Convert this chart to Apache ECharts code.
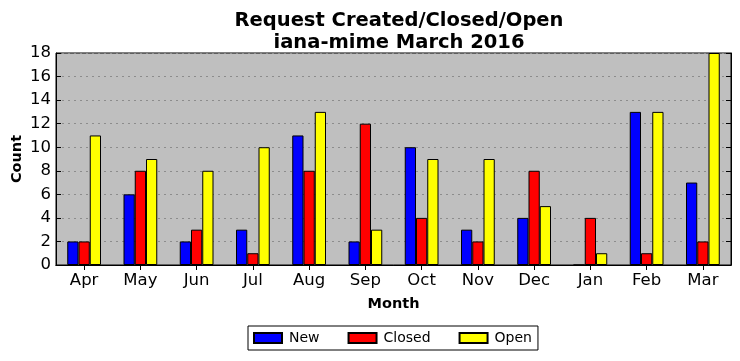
<!DOCTYPE html>
<html><head><meta charset="utf-8">
<script src="https://cdn.jsdelivr.net/npm/echarts@6/dist/echarts.min.js"></script>
<style>html,body{margin:0;padding:0;background:#fff}#c{width:740px;height:361px}</style>
</head><body><div id="c"></div>
<script>
const months = ['Apr','May','Jun','Jul','Aug','Sep','Oct','Nov','Dec','Jan','Feb','Mar'];
const newVals = [2,6,2,3,11,2,10,3,4,0,13,7];
const closedVals = [2,8,3,1,8,12,4,2,8,4,1,2];
const openVals = [11,9,8,10,13,3,9,9,5,1,13,18];
const yTicks = {min:0, max:18, interval:2};

const F = 'DejaVu Sans';
const chart = echarts.init(document.getElementById('c'), null, {renderer:'canvas'});
function bar(name, data, color){
  return {name, type:'bar', data, barWidth:'20%', barGap:'0%', xAxisIndex:0, yAxisIndex:0,
    itemStyle:{color, borderColor:'#000', borderWidth:1}, emphasis:{disabled:true}};
}
chart.setOption({
  animation:false,
  textStyle:{fontFamily:F},
  title:{text:'Request Created/Closed/Open\niana-mime March 2016', left:394, textAlign:'center', top:5,
    textStyle:{fontFamily:F, fontSize:19.5, fontWeight:'bold', color:'#000', lineHeight:22}},
  grid:{left:56, right:9, top:53, bottom:96, containLabel:false, outerBoundsMode:'none',
    show:true, backgroundColor:'#bfbfbf', borderColor:'#000', borderWidth:1},
  legend:{left:248, top:326, itemWidth:28, itemHeight:10, itemGap:28, padding:[5,6,5,5],
    borderColor:'#000', borderWidth:1, borderRadius:0, icon:'rect',
    textStyle:{fontFamily:F, fontSize:14, color:'#000', padding:[0,0,0,2]},
    data:['New','Closed','Open']},
  xAxis:[
    {type:'category', data:months, position:'bottom',
     axisLine:{show:true, lineStyle:{color:'#000'}}, axisTick:{show:true, inside:true, alignWithLabel:true, length:5, lineStyle:{color:'#000'}},
     axisLabel:{fontFamily:F, fontSize:16.5, color:'#000', margin:7},
     name:'Month', nameLocation:'middle', nameGap:32, nameTextStyle:{fontFamily:F, fontSize:14.5, fontWeight:'bold', color:'#000'}},
    {type:'category', data:months, position:'top',
     axisLine:{show:true, lineStyle:{color:'#000'}}, axisTick:{show:true, inside:true, alignWithLabel:true, length:5, lineStyle:{color:'#000'}},
     axisLabel:{show:false}}
  ],
  yAxis:[
    {type:'value', min:yTicks.min, max:yTicks.max, interval:yTicks.interval, position:'left',
     axisLine:{show:true, lineStyle:{color:'#000'}}, axisTick:{show:true, inside:true, length:5, lineStyle:{color:'#000'}},
     axisLabel:{fontFamily:F, fontSize:16.5, color:'#000', margin:5},
     splitLine:{show:true, lineStyle:{color:'#8c8c8c', type:[2,4], width:1}},
     name:'Count', nameLocation:'middle', nameGap:31, nameMoveOverlap:false, nameRotate:90, nameTextStyle:{fontFamily:F, fontSize:14.5, fontWeight:'bold', color:'#000'}},
    {type:'value', min:yTicks.min, max:yTicks.max, interval:yTicks.interval, position:'right',
     axisLine:{show:true, lineStyle:{color:'#000'}}, axisTick:{show:true, inside:true, length:5, lineStyle:{color:'#000'}},
     axisLabel:{show:false}, splitLine:{show:false}}
  ],
  series:[bar('New', newVals, '#0000ff'), bar('Closed', closedVals, '#ff0000'), bar('Open', openVals, '#ffff00')]
});
</script></body></html>
